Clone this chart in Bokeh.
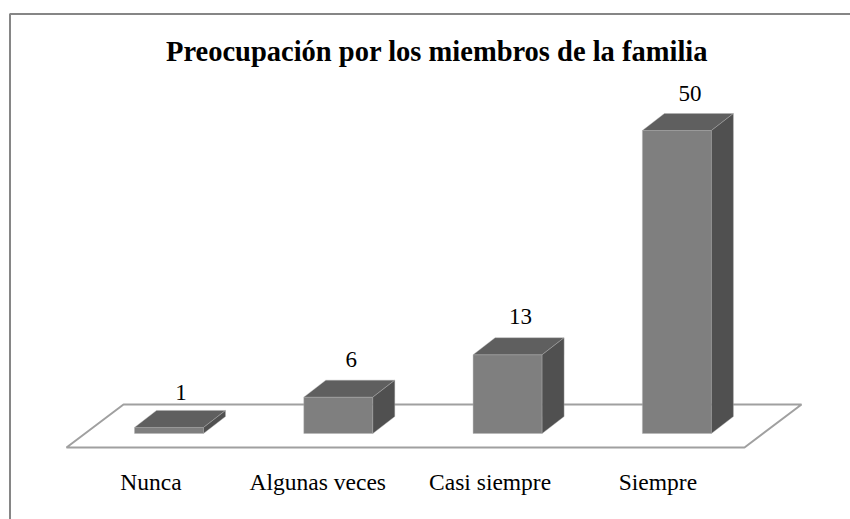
from bokeh.plotting import figure
from bokeh.models import Range1d, ColumnDataSource
from bokeh.core.properties import value
from bokeh.embed import file_html
from bokeh.resources import INLINE

title = "Preocupación por los miembros de la familia"
categories = ["Nunca", "Algunas veces", "Casi siempre", "Siempre"]
counts = [1, 6, 13, 50]

W, H = 850, 519
PX_PER_X = 169.3           # px per category
PX_PER_Y = 6.06            # px per count
x0_px, y0_px = 168.5, 433  # page px of category 0 centre / value 0 baseline (from top)

def X(px):
    return (px - x0_px) / PX_PER_X
def Y(px):
    return (y0_px - px) / PX_PER_Y

p = figure(width=W, height=H, output_backend="svg", toolbar_location=None,
           x_range=Range1d(X(0), X(W)), y_range=Range1d(Y(H), Y(0)),
           min_border=0, outline_line_color=None)
p.axis.visible = False
p.grid.visible = False
p.background_fill_color = "white"

FONT = value("Liberation Serif")
half = 34.5 / PX_PER_X
dx, dy = 22 / PX_PER_X, 17 / PX_PER_Y

# chart frame (open on the right and at the bottom)
p.line([X(9.5), X(9.5), X(W)], [Y(H), Y(13.5), Y(13.5)], line_color="#868686", line_width=2)

# floor
p.patch([X(66), X(744), X(801), X(123)], [Y(447), Y(447), Y(404), Y(404)],
        fill_color="white", line_color="#a0a0a0", line_width=2)

# bars
front_x, front_y, top_x, top_y, side_x, side_y = [], [], [], [], [], []
for i, v in enumerate(counts):
    l, r = i - half, i + half
    front_x.append([l, r, r, l]); front_y.append([0, 0, v, v])
    top_x.append([l, r, r + dx, l + dx]); top_y.append([v, v, v + dy, v + dy])
    side_x.append([r, r + dx, r + dx, r]); side_y.append([0, dy, v + dy, v])
kw = dict(line_color="#b0b0b0", line_width=0.4)
p.patches(front_x, front_y, fill_color="#7f7f7f", **kw)
p.patches(top_x, top_y, fill_color="#5f5f5f", **kw)
p.patches(side_x, side_y, fill_color="#505050", **kw)

# value labels
label_dx = [12, 13, 13, 13]
label_dy = [-18, -21, -21, -20]
src = ColumnDataSource(dict(
    x=[i + s / PX_PER_X for i, s in enumerate(label_dx)],
    y=[v + dy for v in counts],
    t=[str(v) for v in counts],
    off=label_dy))
p.text("x", "y", text="t", source=src, text_font=FONT, text_font_size="23px",
       text_align="center", text_baseline="alphabetic", y_offset="off", text_color="black")

# category labels
cat_shift = [-18, -20.5, -17.5, -19]
p.text([i + s / PX_PER_X for i, s in enumerate(cat_shift)], [Y(481.5)] * 4, text=categories,
       text_font=FONT, text_font_size="23.5px", text_align="center", text_baseline="alphabetic",
       text_color="black")

# title
p.text([X(436.5)], [Y(51)], text=[title], text_font=FONT, text_font_size="28.5px",
       text_font_style="bold", text_align="center", text_baseline="alphabetic", text_color="black")

open("out.html", "w").write(file_html(p, INLINE))
